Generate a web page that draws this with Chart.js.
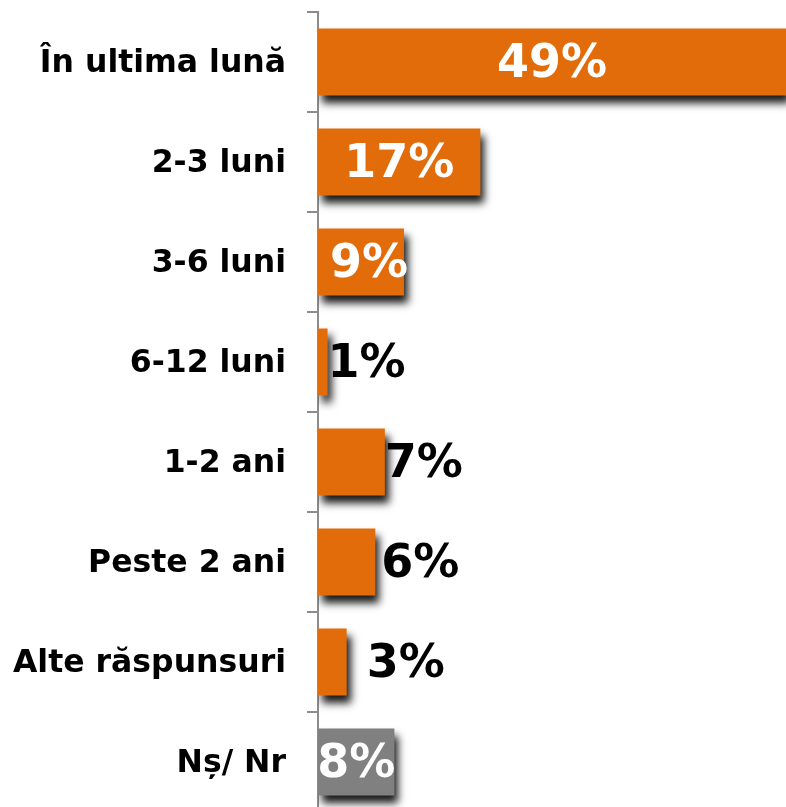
<!DOCTYPE html>
<html>
<head>
<meta charset="utf-8">
<script src="https://cdn.jsdelivr.net/npm/chart.js@4.4.1/dist/chart.umd.min.js"></script>
<style>
  html, body { margin: 0; padding: 0; background: #ffffff; overflow: hidden; }
  #wrap { position: absolute; left: 0; top: 0; width: 786px; height: 812px; }
</style>
</head>
<body>
<div id="wrap"><canvas id="c" width="786" height="812"></canvas></div>
<script>
const categories = ["În ultima lună", "2-3 luni", "3-6 luni", "6-12 luni", "1-2 ani", "Peste 2 ani", "Alte răspunsuri", "Nș/ Nr"];
const values = [49, 17, 9, 1, 7, 6, 3, 8];
const valueLabels = ["49%", "17%", "9%", "1%", "7%", "6%", "3%", "8%"];

const ORANGE = "#E36C0A";
const GREY = "#808080";
const barColors = categories.map((c, i) => i === categories.length - 1 ? GREY : ORANGE);

const labelStyle = { dx: [0, 0, 8, 0, 0, 6, 20, 0] };

const shadowPlugin = {
  id: "barShadow",
  beforeDatasetsDraw(chart) {
    const c = chart.ctx;
    c.save();
    c.shadowColor = "rgba(0,0,0,0.9)";
    c.shadowBlur = 8;
    c.shadowOffsetX = 4;
    c.shadowOffsetY = 7;
  },
  afterDatasetsDraw(chart) {
    chart.ctx.restore();
  }
};

const labelPlugin = {
  id: "valueLabels",
  afterDraw(chart) {
    const c = chart.ctx;
    const meta = chart.getDatasetMeta(0);
    c.save();
    c.font = "bold 46px 'DejaVu Sans'";
    c.textBaseline = "middle";
    meta.data.forEach((bar, i) => {
      const v = values[i];
      const dx = labelStyle.dx[i] || 0;
      if (v >= 8) {
        c.fillStyle = "#ffffff";
        c.textAlign = "center";
        c.fillText(valueLabels[i], (bar.base + bar.x) / 2 + dx, bar.y + 3);
      } else {
        c.fillStyle = "#000000";
        c.textAlign = "left";
        c.fillText(valueLabels[i], bar.x + dx, bar.y + 3);
      }
    });
    c.restore();
  }
};

new Chart(document.getElementById("c"), {
  type: "bar",
  data: {
    labels: categories,
    datasets: [{
      data: values,
      backgroundColor: barColors,
      borderWidth: 0,
      barPercentage: 0.67,
      categoryPercentage: 1.0
    }]
  },
  options: {
    indexAxis: "y",
    responsive: false,
    animation: false,
    layout: { padding: { top: 12, right: 0, bottom: 0, left: 0 } },
    plugins: { legend: { display: false }, tooltip: { enabled: false } },
    scales: {
      x: { display: false, min: 0, max: 49 },
      y: {
        afterFit(scale) { scale.width = 318; scale.paddingTop = 0; scale.paddingBottom = 0; },
        border: { display: true, color: "#8c8c8c", width: 2 },
        grid: { display: true, drawOnChartArea: false, drawTicks: true, tickLength: 11, color: "#8c8c8c", lineWidth: 2, offset: true },
        ticks: { color: "#000000", padding: 21, labelOffset: 2, font: { family: "'DejaVu Sans'", weight: "bold", size: 31.5 } }
      }
    }
  },
  plugins: [shadowPlugin, labelPlugin]
});
</script>
</body>
</html>
